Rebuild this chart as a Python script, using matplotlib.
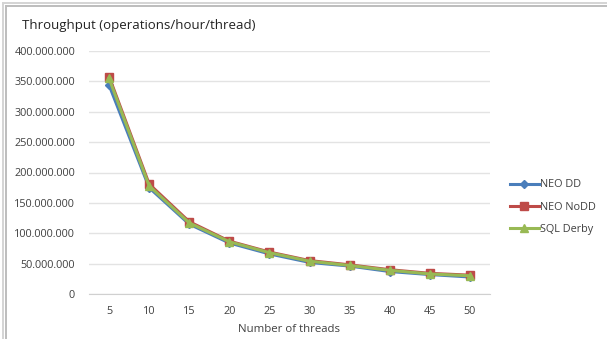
import matplotlib
matplotlib.use("Agg")
import matplotlib.pyplot as plt
from matplotlib.lines import Line2D
from matplotlib.ticker import FuncFormatter

threads = [5, 10, 15, 20, 25, 30, 35, 40, 45, 50]
neo_dd = [344e6, 175e6, 115e6, 84e6, 66e6, 52e6, 46e6, 37e6, 32e6, 28e6]
neo_nodd = [358e6, 181e6, 119e6, 87e6, 69e6, 55e6, 48e6, 40e6, 34e6, 31e6]
sql_derby = [355e6, 178e6, 117e6, 86e6, 68e6, 54e6, 47e6, 39e6, 33e6, 30e6]
series_names = ["NEO DD", "NEO NoDD", "SQL Derby"]
y_ticks = [0, 50e6, 100e6, 150e6, 200e6, 250e6, 300e6, 350e6, 400e6]

plt.rcParams["font.family"] = ["Open Sans", "DejaVu Sans"]

W, H = 607, 339
fig = plt.figure(figsize=(W / 100, H / 100), dpi=100)
fig.patch.set_facecolor("white")

# chart frame (double grey rule on top and left)
for off, col in [(2.5, "#d4d4d4"), (6.0, "#bdbdbd")]:
    fig.add_artist(Line2D([off / W, off / W], [0, 1 - off / H], transform=fig.transFigure,
                          color=col, lw=1.4))
    fig.add_artist(Line2D([off / W, 1], [1 - off / H, 1 - off / H], transform=fig.transFigure,
                          color=col, lw=1.4))

ax = fig.add_axes([89 / W, 1 - 294 / H, (490 - 89) / W, (294 - 51) / H])
x = list(range(len(threads)))

styles = [
    (neo_dd, "#4A7EBB", "D", 4.5),
    (neo_nodd, "#BE4B48", "s", 5.5),
    (sql_derby, "#98B954", "^", 6.0),
]
for (vals, col, mk, ms), name in zip(styles, series_names):
    ax.plot(x, vals, color=col, lw=2.2, marker=mk, markersize=ms,
            markerfacecolor=col, markeredgecolor=col, label=name)

ax.set_xlim(-0.5, len(threads) - 0.5)
ax.set_ylim(0, 400e6)
ax.set_yticks(y_ticks)
ax.yaxis.set_major_formatter(FuncFormatter(lambda v, p: f"{int(v):,}".replace(",", ".")))
ax.set_xticks(x)
ax.set_xticklabels([str(t) for t in threads])
ax.grid(axis="y", color="#e3e3e3", lw=1.0)
ax.set_axisbelow(True)
for s in ["top", "right", "left"]:
    ax.spines[s].set_visible(False)
ax.spines["bottom"].set_color("#d0d0d0")
ax.tick_params(axis="both", length=0, labelsize=7.8, colors="#404040")
ax.tick_params(axis="y", pad=10)
ax.tick_params(axis="x", pad=9)
ax.set_xlabel("Number of threads", fontsize=8.2, color="#404040", labelpad=5)

fig.text(22 / W, 1 - 25 / H, "Throughput (operations/hour/thread)", fontsize=9.5,
         color="#222222", va="center", ha="left")

leg = fig.legend(loc="upper left", bbox_to_anchor=(506 / W, 1 - 175 / H), frameon=False,
                 fontsize=7.8, handlelength=2.6, handletextpad=0.1, labelspacing=1.05,
                 borderaxespad=0)
for t in leg.get_texts():
    t.set_color("#404040")

fig.savefig("out.png", dpi=100)
